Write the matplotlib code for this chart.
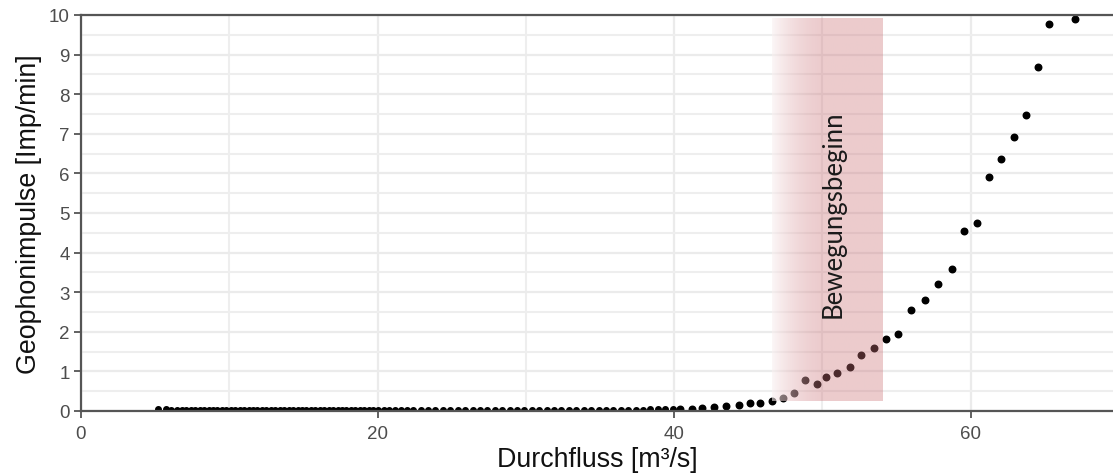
import matplotlib.pyplot as plt
import numpy as np
from matplotlib.ticker import MultipleLocator

# Durchfluss [m3/s] vs Geophonimpulse [Imp/min]
q_low = [5.2, 5.7, 6.1, 6.5, 6.8, 7.1, 7.4, 7.7, 8.0, 8.3, 8.6, 8.9, 9.2, 9.5,
         9.8, 10.1, 10.4, 10.7, 11.0, 11.3, 11.6, 11.9, 12.2, 12.5, 12.8, 13.1,
         13.4, 13.7, 14.0, 14.3, 14.6, 14.9, 15.2, 15.5, 15.8, 16.1, 16.4, 16.7,
         17.0, 17.3, 17.6, 17.9, 18.2, 18.5, 18.8, 19.1, 19.4, 19.7, 20.0, 20.4,
         20.8, 21.2, 21.6, 22.0, 22.4, 22.9, 23.4, 23.9, 24.4, 24.9, 25.4, 25.9,
         26.4, 26.9, 27.4, 27.9, 28.4, 28.9, 29.4, 29.9, 30.4, 30.9, 31.4, 31.9,
         32.4, 32.9, 33.4, 33.9, 34.4, 34.9, 35.4, 35.9, 36.4, 36.9, 37.4, 37.9,
         38.4, 38.9, 39.4, 39.9]
imp_low = [0.04, 0.04, 0.03, 0.03, 0.03, 0.03, 0.03, 0.03, 0.03, 0.03, 0.03, 0.03,
           0.03, 0.03, 0.03, 0.03, 0.03, 0.03, 0.03, 0.03, 0.03, 0.03, 0.03, 0.03,
           0.03, 0.03, 0.03, 0.03, 0.03, 0.03, 0.03, 0.03, 0.03, 0.03, 0.03, 0.03,
           0.03, 0.03, 0.03, 0.03, 0.03, 0.03, 0.03, 0.03, 0.03, 0.03, 0.03, 0.03,
           0.03, 0.03, 0.03, 0.03, 0.03, 0.03, 0.03, 0.03, 0.03, 0.03, 0.03, 0.03,
           0.03, 0.03, 0.03, 0.03, 0.03, 0.03, 0.03, 0.03, 0.03, 0.03, 0.03, 0.03,
           0.03, 0.03, 0.03, 0.03, 0.03, 0.03, 0.03, 0.03, 0.03, 0.03, 0.03, 0.03,
           0.03, 0.03, 0.04, 0.04, 0.04, 0.04]
q_high = [40.4, 41.2, 41.9, 42.7, 43.5, 44.35, 45.1, 45.8, 46.6, 47.35, 48.1,
          48.85, 49.6, 50.25, 51.0, 51.85, 52.6, 53.5, 54.3, 55.1, 56.0, 56.9,
          57.8, 58.7, 59.55, 60.4, 61.2, 62.05, 62.9, 63.7, 64.5, 65.3, 67.05]
imp_high = [0.05, 0.06, 0.08, 0.10, 0.13, 0.14, 0.20, 0.21, 0.24, 0.34, 0.45,
            0.78, 0.68, 0.85, 0.96, 1.12, 1.41, 1.58, 1.83, 1.95, 2.56, 2.81,
            3.21, 3.58, 4.54, 4.76, 5.91, 6.37, 6.93, 7.48, 8.69, 9.78, 9.91]

# Bereich Bewegungsbeginn
band_x = [46.6, 54.05]
band_y = [0.25, 9.92]
band_label = "Bewegungsbeginn"

fig = plt.figure(figsize=(11.13, 4.77), dpi=100)
ax = fig.add_axes([81/1113, 1-412/477, 1-81/1113, (412-16)/477])

ax.set_xlim(0, (1113-81)/14.83)
ax.set_ylim(0, 10)

ax.xaxis.set_major_locator(MultipleLocator(20))
ax.xaxis.set_minor_locator(MultipleLocator(10))
ax.yaxis.set_major_locator(MultipleLocator(1))
ax.yaxis.set_minor_locator(MultipleLocator(0.5))
ax.grid(which='major', color='#EBEBEB', linewidth=1.6)
ax.grid(which='minor', color='#EEEEEE', linewidth=1.5)
ax.set_axisbelow(True)

ax.plot(q_low, imp_low, 'o', color='black', markersize=4.0, zorder=2)
ax.plot(q_high, imp_high, 'o', color='black', markersize=4.7, zorder=2)

# gradient shade, white on the left fading to pink
n = 200
t = np.linspace(0, 1, n)
frac = np.clip(0.1 + t/0.5, 0, 1)
pink = np.array([0.80, 0.45, 0.47])
rgba = np.zeros((1, n, 4))
for k in range(3):
    rgba[0, :, k] = 1.0*(1-frac) + pink[k]*frac
rgba[0, :, 3] = 0.62*(1-frac) + 0.37*frac
ax.imshow(rgba, extent=[band_x[0], band_x[1], band_y[0], band_y[1]],
          aspect='auto', zorder=4, interpolation='bilinear')

ax.text(50.7, 5.0, band_label, rotation=90, ha='center', va='center',
        fontsize=18.5, family='Lato', color='#1a1a1a', zorder=5)

ax.spines['right'].set_visible(False)
for s in ['top', 'bottom', 'left']:
    ax.spines[s].set_color('#555555')
    ax.spines[s].set_linewidth(1.6)
    ax.spines[s].set_zorder(3)

ax.tick_params(which='major', length=5, width=1.3, color='#555555',
               labelcolor='#4D4D4D', labelsize=13.5, pad=3)
ax.tick_params(axis='x', which='major', pad=5)
ax.tick_params(which='minor', length=0)
for lab in ax.get_xticklabels() + ax.get_yticklabels():
    lab.set_family('Liberation Sans')

ax.set_xlabel('Durchfluss [m³/s]', family='Liberation Sans', fontsize=19.3,
              color='#111111', labelpad=3)
ax.set_ylabel('Geophonimpulse [Imp/min]', family='Liberation Sans',
              fontsize=19.3, color='#111111', labelpad=5)

fig.savefig('out.png', dpi=100)
